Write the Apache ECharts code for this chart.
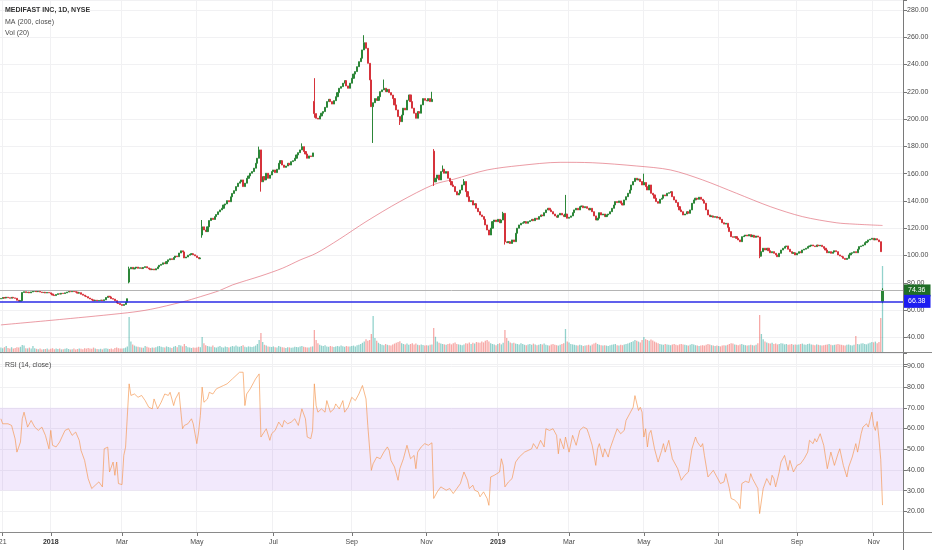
<!DOCTYPE html>
<html>
<head>
<meta charset="utf-8">
<title>MEDIFAST INC, 1D, NYSE</title>
<script src="https://cdn.jsdelivr.net/npm/echarts/dist/echarts.min.js"></script>
<style>
html, body { margin: 0; padding: 0; background: #fff; }
#main { width: 932px; height: 550px; }
</style>
</head>
<body>
<div id="main"></div>
<script>
// daily closes, one line per month (Nov 20 2017 .. Nov 8 2019)
var closes = [
    68.5, 69.2, 68.8, 69.4, 69.0, 68.7, 69.3, 68.9,   // Nov 17
    68.6, 67.2, 66.4, 66.8, 72.9, 73.4, 72.8, 73.1, 72.6, 73.3, 73.8, 74.0, 73.5, 73.7, 73.2, 72.8, 73.0, 72.5, 72.9, 72.6,   // Dec
    71.8, 71.0, 70.6, 71.4, 72.0, 71.7, 72.3, 72.1, 72.6, 73.2, 73.6, 73.4, 73.8, 73.5, 73.1, 72.4, 72.7, 71.6, 70.9, 70.2, 69.8,   // Jan 18
    68.8, 68.1, 67.4, 66.8, 67.2, 66.7, 67.0, 67.3, 66.9, 67.5, 69.2, 70.1, 69.6, 68.4, 68.0, 66.9, 65.2, 64.8, 64.0,   // Feb
    63.4, 64.1, 65.8, 68.3, 90.2, 91.3, 90.1, 90.8, 91.5, 90.6, 91.0, 90.4, 91.2, 91.8, 90.9, 90.2, 89.6, 90.0, 89.4, 90.3, 91.6,   // Mar
    92.8, 93.5, 94.6, 94.0, 95.5, 96.8, 97.6, 97.0, 98.5, 99.6, 99.1, 101.8, 103.4, 102.6, 98.2, 98.9, 100.2, 100.8, 101.3, 100.5, 99.7,   // Apr
    98.5, 97.6, 98.2, 121.0, 118.7, 117.5, 121.0, 125.6, 127.3, 126.4, 128.5, 130.0, 132.0, 133.4, 134.6, 137.0, 137.8, 140.2, 139.4, 143.0, 145.5, 147.5,   // May
    150.5, 153.0, 154.0, 155.4, 150.5, 153.0, 156.6, 158.3, 160.3, 161.5, 164.0, 167.6, 171.3, 177.4, 154.0, 157.8, 155.4, 160.3, 156.6, 159.0, 161.5,   // Jun
    162.7, 160.8, 163.2, 167.6, 169.5, 166.3, 164.6, 165.6, 167.6, 166.3, 168.8, 169.5, 171.3, 173.7, 175.4, 177.4, 179.8, 176.2, 174.4, 171.3, 173.0,   // Jul
    172.5, 175.2, 204.0, 200.6, 200.0, 202.3, 204.3, 205.5, 208.6, 212.8, 214.5, 212.8, 211.0, 213.5, 216.4, 219.4, 222.6, 223.8, 226.3, 228.2, 224.3, 222.6, 226.3,   // Aug
    229.9, 233.0, 234.8, 238.4, 242.1, 244.6, 250.7, 256.0, 251.9, 240.9, 228.7, 209.1, 212.0, 215.0, 213.7, 216.4, 220.1, 221.4, 222.6,   // Sep
    220.1, 221.8, 219.4, 217.6, 215.0, 210.4, 206.7, 201.8, 198.1, 203.0, 208.0, 206.7, 213.8, 217.7, 212.8, 208.0, 204.3, 200.6, 205.5, 204.3, 210.4, 215.0, 213.8,   // Oct
    213.3, 215.0, 212.8, 214.5, 154.0, 156.6, 159.0, 155.4, 161.5, 163.2, 160.3, 161.5, 156.6, 154.2, 151.7, 150.5, 146.8, 144.4, 145.6, 148.0, 151.7,   // Nov
    154.2, 146.8, 143.1, 139.5, 140.2, 137.0, 138.0, 134.6, 132.1, 129.7, 128.5, 126.5, 122.4, 118.7, 115.0, 120.0, 124.8, 126.0, 124.8,   // Dec
    126.5, 124.0, 126.0, 130.9, 110.0, 109.4, 110.1, 108.8, 111.4, 110.1, 116.3, 120.0, 122.4, 123.6, 124.0, 124.8, 123.6, 124.8, 125.5, 126.5, 125.5,   // Jan 19
    127.3, 126.5, 128.5, 129.7, 129.0, 131.4, 133.4, 134.6, 133.4, 132.1, 130.4, 129.0, 128.0, 129.7, 130.9, 129.7, 128.5, 130.4, 127.3,   // Feb
    128.0, 129.0, 131.4, 133.4, 134.6, 133.4, 135.8, 136.3, 135.0, 135.8, 134.6, 133.4, 134.6, 132.1, 129.0, 126.0, 127.3, 131.4, 129.7, 130.4, 128.5,   // Mar
    129.7, 130.4, 132.1, 134.6, 137.0, 139.5, 138.8, 140.0, 138.3, 137.0, 140.7, 143.1, 145.6, 148.0, 151.7, 154.2, 156.6, 155.4, 156.0, 154.2, 151.7,   // Apr
    153.5, 150.5, 148.0, 151.7, 145.6, 144.4, 142.0, 139.5, 138.3, 141.2, 142.0, 144.4, 143.7, 145.6, 146.0, 146.8, 143.1, 140.7, 138.8, 135.8, 133.4, 132.1,   // May
    129.7, 130.4, 132.1, 130.9, 133.4, 138.3, 140.7, 142.0, 141.2, 142.7, 141.2, 140.2, 138.3, 133.4, 129.7, 128.5, 129.0, 128.0, 128.5, 127.5,   // Jun
    128.0, 126.5, 124.0, 123.0, 123.6, 120.6, 117.5, 113.8, 113.3, 113.8, 112.6, 111.4, 110.1, 113.8, 114.3, 115.0, 114.3, 115.3, 113.8, 114.8, 113.3, 114.3,   // Jul
    113.5, 99.5, 102.8, 105.3, 104.0, 105.3, 103.5, 102.0, 102.8, 101.6, 100.4, 99.1, 101.6, 104.0, 105.3, 106.5, 107.0, 104.6, 102.8, 101.6, 102.0, 100.4,   // Aug
    101.6, 102.8, 102.0, 104.0, 104.6, 105.3, 106.5, 107.0, 107.7, 107.0, 106.5, 107.7, 107.0, 107.5, 106.5, 105.3, 104.0, 102.0, 102.8, 101.6,   // Sep
    102.5, 103.5, 102.8, 100.4, 99.6, 99.1, 97.9, 97.1, 97.9, 100.4, 101.6, 102.0, 102.8, 102.0, 104.6, 106.5, 107.0, 107.7, 109.4, 110.1, 111.4, 111.9, 112.6,   // Oct
    111.4, 112.3, 111.4, 110.1, 102.8, 74.36   // Nov
];

// opens that did not start at the previous close (gaps)
var gapOpens = [[0, 68.2], [72, 80.5], [113, 115.0], [176, 213.0], [243, 176.5], [495, 66.38]];
// visible wick extremes
var wickHighs = [[72, 91.8], [113, 126.0], [145, 179.8], [169, 182.2], [176, 230.0], [204, 261.5], [215, 229.0],
    [242, 220.0], [243, 178.0], [248, 166.0], [260, 156.0], [282, 132.0], [317, 144.4], [361, 160.0], [495, 76.0]];
var wickLows = [[72, 79.6], [113, 113.0], [146, 146.8], [176, 201.0], [209, 182.5], [224, 195.7], [243, 151.0],
    [283, 108.0], [426, 98.0], [495, 65.0]];

// volume, thousands of shares
var volumes = [
    110, 95, 120, 150, 100, 85, 120, 90,
    100, 120, 110, 130, 175, 160, 95, 90, 110, 85, 150, 95, 80, 70, 85, 60, 70, 75, 90, 65,
    80, 95, 70, 85, 75, 90, 65, 70, 80, 95, 75, 60, 70, 85, 65, 75, 90, 80, 70, 95, 85,
    100, 90, 80, 110, 85, 75, 70, 80, 65, 90, 95, 80, 75, 85, 70, 100, 110, 95, 90,
    85, 95, 110, 140, 875, 260, 190, 160, 140, 130, 120, 110, 105, 150, 130, 115, 100, 110, 105, 120, 140,
    150, 130, 120, 110, 140, 125, 115, 100, 130, 150, 120, 175, 160, 140, 200, 150, 120, 110, 100, 115, 105,
    110, 130, 120, 375, 220, 170, 150, 140, 130, 160, 120, 110, 130, 150, 120, 110, 140, 125, 115, 130, 150, 140,
    160, 140, 130, 150, 170, 130, 120, 140, 130, 125, 140, 160, 200, 300, 475, 250, 180, 160, 140, 130, 125,
    140, 120, 110, 150, 130, 120, 110, 100, 120, 115, 105, 110, 130, 125, 120, 140, 150, 130, 120, 110, 115,
    130, 140, 550, 300, 220, 180, 160, 150, 170, 140, 130, 150, 140, 125, 135, 150, 140, 160, 145, 130, 150, 140, 135,
    150, 160, 140, 170, 180, 200, 230, 260, 320, 280, 300, 450, 900, 350, 280, 230, 200, 180, 170,
    200, 180, 170, 160, 190, 210, 230, 250, 270, 220, 200, 190, 210, 180, 200, 220, 190, 210, 180, 170, 190, 175, 160,
    170, 160, 180, 190, 600, 380, 260, 230, 210, 200, 190, 180, 200, 210, 190, 220, 240, 200, 190, 180, 170,
    190, 220, 210, 240, 200, 230, 210, 250, 240, 230, 260, 240, 280, 300, 260, 220, 200, 190, 170,
    200, 220, 190, 230, 550, 350, 280, 240, 220, 230, 210, 200, 190, 220, 200, 180, 170, 190, 200, 180, 210,
    190, 170, 180, 200, 190, 210, 180, 170, 160, 190, 200, 180, 170, 160, 180, 200, 220, 575, 260,
    240, 200, 190, 180, 170, 160, 180, 170, 150, 160, 170, 180, 160, 190, 210, 230, 200, 180, 170, 160, 170,
    160, 150, 170, 180, 190, 200, 170, 160, 180, 170, 190, 200, 210, 230, 250, 270, 300, 280, 260, 240, 300,
    375, 320, 300, 280, 310, 290, 260, 240, 220, 200, 190, 180, 200, 190, 180, 170, 190, 200, 180, 170, 190, 200,
    190, 180, 170, 160, 180, 200, 190, 170, 160, 150, 160, 170, 160, 180, 200, 190, 170, 160, 150, 160,
    150, 140, 160, 170, 160, 180, 200, 220, 210, 190, 180, 170, 190, 200, 180, 170, 160, 170, 180, 170, 160, 180,
    220, 925, 450, 320, 260, 240, 220, 210, 230, 200, 210, 190, 200, 220, 210, 190, 200, 180, 190, 200, 180, 190,
    180, 190, 200, 210, 190, 180, 200, 210, 190, 180, 170, 190, 180, 170, 160, 170, 180, 190, 200, 180,
    170, 180, 190, 200, 190, 180, 170, 160, 180, 190, 170, 160, 180, 400, 200, 190, 210, 220, 200, 190, 210, 230, 250,
    240, 260, 220, 250, 850, 2150
];

// MA(200): [trading day, value]
var maPoints = [[0, 49.1], [35, 53.3], [71, 58.0], [84, 60.5], [102, 66.0], [112, 69.8], [123, 74.4], [130, 78.4],
    [146, 85.0], [158, 90.6], [168, 96.7], [177, 101.6], [190, 111.9], [205, 124.8], [224, 139.5], [243, 152.0],
    [254, 155.8], [273, 162.7], [291, 165.9], [314, 168.3], [332, 168.0], [357, 165.6], [376, 162.7], [394, 155.4],
    [413, 145.6], [432, 135.8], [450, 128.5], [469, 124.0], [479, 123.0], [495, 122.0]];

// RSI(14): [trading day, value]
var rsiPoints = [[0,64.7],[1,62.3],[4,62.3],[6,61.5],[8,55],[9,48.6],[10,51],[11,53.5],[12,64.7],[13,67.9],[15,60.7],[17,63.9],
    [19,60.7],[21,59.1],[23,60.7],[25,56.7],[27,50.2],[28,59.1],[29,51.9],[31,51.1],[33,53.5],[36,59.1],[38,59.9],[40,56.7],
    [42,58.3],[44,54.3],[45,49.4],[47,44.6],[49,35.8],[51,31],[53,32.6],[55,34.2],[57,31.8],[58,50.2],[60,51],[61,39],
    [63,43.8],[64,37.4],[65,43.8],[66,33.4],[68,32.9],[69,47],[70,51],[72,81.6],[73,76],[75,76.7],[77,75.1],[79,76],
    [81,73.5],[83,70.3],[85,69.5],[86,74.3],[88,69.5],[90,72.7],[92,76.7],[94,76],[95,77.5],[97,71.1],[98,74.3],[100,77.5],
    [101,77.5],[102,59.9],[103,61.5],[105,62.3],[107,64.7],[108,62.3],[110,52.7],[111,58.3],[112,66.3],[113,80],[114,72.7],
    [116,74.3],[117,77.5],[119,76.7],[121,79.2],[123,80],[125,80.8],[127,81.6],[128,80.8],[130,84],[132,85.6],[134,87.2],
    [136,87.2],[137,71.1],[138,76.7],[140,79.2],[142,82.4],[143,84],[145,86.4],[146,55.9],[147,55.1],[149,59.9],[151,54.3],
    [152,57.5],[154,59.1],[156,63.1],[158,60.7],[159,63.9],[161,62.3],[163,63.1],[165,64.7],[167,61.5],[169,69.5],[171,64.7],
    [172,55.9],[174,55.1],[175,59.1],[176,81.6],[177,71.1],[178,67.9],[180,69.5],[182,67.9],[183,73.5],[185,67.9],[187,69.5],
    [188,71.9],[190,69.5],[192,73.5],[193,67.9],[195,70.3],[197,75.1],[199,73.5],[201,76.7],[203,80.8],[204,81.6],[205,74.3],
    [206,61.5],[208,39.8],[209,43],[211,46.2],[213,45.4],[215,48.6],[217,51.1],[218,49.4],[219,44.6],[221,41.4],[223,35],
    [224,40.6],[226,45.4],[228,51.9],[230,45.4],[232,47],[233,40.6],[234,48.6],[236,51.1],[238,52.7],[240,51.9],[242,53.1],
    [243,26.2],[245,29.4],[247,31.8],[248,32.6],[250,30.2],[252,31],[254,28.6],[256,31],[258,33.4],[260,39],[262,35],[263,31],
    [265,32.6],[266,30.2],[268,29.4],[269,27],[271,29.4],[273,26.2],[274,22.9],[275,36.6],[277,37.4],[278,36.6],[280,39],
    [281,45.4],[282,42.2],[283,31.8],[285,34.2],[287,35.8],[289,43.8],[291,46.2],[292,47],[294,48.6],[296,49.4],[298,50.2],
    [299,52.7],[301,50.2],[303,54.3],[305,51.1],[306,59.9],[308,59.1],[310,59.9],[312,56.7],[313,47.8],[314,55.1],[316,50.2],
    [317,55.9],[319,48.6],[321,56.7],[323,51.9],[325,59.1],[327,60.7],[329,59.9],[330,57.5],[332,51.9],[334,42.2],[335,50.2],
    [336,52.7],[338,46.2],[339,50.2],[341,46.2],[342,50.2],[344,55.1],[346,59.9],[348,57.5],[350,59.1],[351,63.9],[353,67.1],
    [355,70.3],[356,75.9],[357,76.7],[358,68.7],[359,70.3],[360,67.9],[361,55.9],[362,59.9],[363,51.1],[364,57.5],[365,59.1],
    [367,50.2],[369,43.8],[371,49.4],[372,52.7],[373,48.6],[375,54.3],[377,45.4],[378,43.8],[380,40.6],[382,35],[384,37.4],
    [386,39],[388,50.2],[390,55.9],[391,53.5],[393,51.1],[394,52.7],[395,47],[397,36.6],[398,37.4],[400,39.8],[401,40.6],
    [402,36.6],[404,33.4],[406,34.2],[407,38.2],[409,31],[410,26.2],[412,25.4],[414,23.7],[415,21.3],[416,33.4],[418,34.5],
    [420,33.9],[421,38.2],[422,35.8],[424,32.6],[425,31],[426,18.9],[428,31],[430,35.8],[431,36.6],[432,32.6],[433,37.4],
    [434,35.8],[435,31.8],[437,39],[438,43.8],[440,47],[442,39.8],[443,44.6],[444,43.8],[445,39],[447,42.2],[449,43],
    [451,45.4],[453,48.6],[454,54.3],[456,52.7],[457,55.1],[458,53.5],[460,57.5],[462,51.9],[463,51.1],[464,40.6],[466,48.6],
    [468,42.2],[470,47.8],[471,50.2],[473,42.2],[475,36.6],[476,41.4],[478,46.2],[480,52.7],[481,48.6],[483,57.5],[484,60.7],
    [486,62.3],[487,60.7],[489,67.9],[490,61.5],[491,59.1],[492,63.4],[493,55],[494,45],[495,23]];

// horizontal price lines: last price, drawn level
var priceLines = [74.36, 66.38];
var priceTicks = [40, 280];     // labelled price range
var rsiTicks = [20, 90];        // labelled rsi range
var rsiBand = [30, 70];
var monthNames = ['Jan','Feb','Mar','Apr','May','Jun','Jul','Aug','Sep','Oct','Nov','Dec'];

// trading calendar (weekdays minus NYSE holidays), plus some empty days on the right
var holidays = ['2017-11-23','2017-12-25','2018-01-01','2018-01-15','2018-02-19','2018-03-30','2018-05-28',
    '2018-07-04','2018-09-03','2018-11-22','2018-12-05','2018-12-25','2019-01-01','2019-01-21','2019-02-18',
    '2019-04-19','2019-05-27','2019-07-04','2019-09-02','2019-11-28'];
var days = [];
var d = new Date(Date.UTC(2017, 10, 20));
while (days.length < closes.length + 11) {
    var s = d.toISOString().slice(0, 10);
    var wd = d.getUTCDay();
    if (wd !== 0 && wd !== 6 && holidays.indexOf(s) < 0) days.push(s);
    d.setUTCDate(d.getUTCDate() + 1);
}

var FONT = '"Liberation Sans", Arial, sans-serif';
var UP = '#2c8638', DOWN = '#d6333b';
var VOL_UP = 'rgba(38,166,154,0.5)', VOL_DOWN = 'rgba(239,83,80,0.5)';
var TXT = '#4a4a4a';

var openAt = {}, hiAt = {}, loAt = {};
gapOpens.forEach(function (p) { openAt[p[0]] = p[1]; });
wickHighs.forEach(function (p) { hiAt[p[0]] = p[1]; });
wickLows.forEach(function (p) { loAt[p[0]] = p[1]; });

var candleData = [], volData = [];
for (var i = 0; i < closes.length; i++) {
    var c = closes[i];
    var o = openAt[i] !== undefined ? openAt[i] : closes[i - 1];
    var hi = Math.max(o, c, hiAt[i] !== undefined ? hiAt[i] : -Infinity);
    var lo = Math.min(o, c, loAt[i] !== undefined ? loAt[i] : Infinity);
    candleData.push([o, c, lo, hi]);
    volData.push({ value: volumes[i], itemStyle: { color: c >= o ? VOL_UP : VOL_DOWN } });
}

// label every other month start, plus the partial first day
function isTick(idx) {
    if (idx === 1) return true;
    if (idx < 1 || idx >= closes.length) return false;
    var m = days[idx].slice(5, 7);
    return m !== days[idx - 1].slice(5, 7) && (+m) % 2 === 1;
}
function tickLabel(v, idx) {
    if (idx === 1) return v.slice(8, 10);
    var m = +v.slice(5, 7);
    if (m === 1) return '{yr|' + v.slice(0, 4) + '}';
    return monthNames[m - 1];
}

var myChart = echarts.init(document.getElementById('main'));

var option = {
    animation: false,
    backgroundColor: '#fff',
    textStyle: { fontFamily: FONT },
    grid: [
        { left: 0, right: 29, top: 0, height: 364.6, outerBoundsMode: 'none' },   // price
        { left: 0, right: 29, top: 252, height: 100, outerBoundsMode: 'none' },   // volume
        { left: 0, right: 29, top: 353, height: 179, outerBoundsMode: 'none' }    // rsi
    ],
    xAxis: [
        {
            type: 'category', gridIndex: 0, data: days, boundaryGap: true,
            axisLine: { show: false }, axisTick: { show: false }, axisLabel: { show: false },
            splitLine: { show: true, interval: isTick, lineStyle: { color: '#f1f1f3' } }
        },
        { type: 'category', gridIndex: 1, data: days, show: false },
        {
            type: 'category', gridIndex: 2, data: days, boundaryGap: true,
            axisLine: { show: false },
            axisTick: { show: true, interval: isTick, alignWithLabel: true, length: 4, lineStyle: { color: '#777' } },
            axisLabel: {
                interval: isTick, formatter: tickLabel, margin: 7,
                color: TXT, fontSize: 7, fontFamily: FONT,
                rich: { yr: { fontWeight: 'bold', color: '#333', fontSize: 7, fontFamily: FONT } }
            },
            splitLine: { show: true, interval: isTick, lineStyle: { color: '#f1f1f3' } }
        }
    ],
    yAxis: [
        {
            type: 'value', gridIndex: 0, position: 'right', min: 20, max: 287.3, interval: 20,
            axisLine: { show: false },
            axisTick: { show: true, length: 4, lineStyle: { color: '#777' } },
            axisLabel: {
                margin: 4, color: TXT, fontSize: 7, fontFamily: FONT,
                formatter: function (v) { return (v >= priceTicks[0] && v <= priceTicks[1]) ? v.toFixed(2) : ''; }
            },
            splitLine: { lineStyle: { color: '#f1f1f3' } }
        },
        { type: 'value', gridIndex: 1, min: 0, max: 2500, show: false },
        {
            type: 'value', gridIndex: 2, position: 'right', min: 10, max: 96.5, interval: 10,
            axisLine: { show: false },
            axisTick: { show: true, length: 4, lineStyle: { color: '#777' } },
            axisLabel: {
                margin: 4, color: TXT, fontSize: 7, fontFamily: FONT,
                formatter: function (v) { return (v >= rsiTicks[0] && v <= rsiTicks[1]) ? v.toFixed(2) : ''; }
            },
            splitLine: { lineStyle: { color: '#f1f1f3' } }
        }
    ],
    series: [
        {
            name: 'Vol', type: 'bar', xAxisIndex: 1, yAxisIndex: 1, data: volData,
            barWidth: '72%', z: 1, silent: true
        },
        {
            name: 'MEDIFAST', type: 'candlestick', xAxisIndex: 0, yAxisIndex: 0, data: candleData,
            barWidth: 1.6, z: 3, silent: true,
            itemStyle: { color: UP, color0: DOWN, borderColor: UP, borderColor0: DOWN, borderWidth: 1 },
            markLine: {
                silent: true, symbol: ['none', 'none'], animation: false,
                data: [
                    {
                        yAxis: priceLines[0],
                        lineStyle: { color: '#b4b4b4', width: 1, type: 'solid' },
                        label: {
                            position: 'end', distance: 0, formatter: priceLines[0].toFixed(2),
                            color: '#fff', fontSize: 7, fontFamily: FONT, backgroundColor: '#1f6e27',
                            padding: [3, 5, 2, 5]
                        }
                    },
                    {
                        yAxis: priceLines[1],
                        lineStyle: { color: '#2b2be6', width: 1.5, type: 'solid' },
                        label: {
                            position: 'end', distance: 0, formatter: priceLines[1].toFixed(2),
                            color: '#fff', fontSize: 7, fontFamily: FONT, backgroundColor: '#1d1df0',
                            padding: [3, 5, 3, 5]
                        }
                    }
                ]
            }
        },
        {
            name: 'MA (200, close)', type: 'line', xAxisIndex: 0, yAxisIndex: 0, data: maPoints,
            smooth: 0.3, symbol: 'none', z: 2, silent: true,
            lineStyle: { color: 'rgba(222,90,105,0.6)', width: 1 }
        },
        {
            name: 'RSI', type: 'line', xAxisIndex: 2, yAxisIndex: 2, data: rsiPoints,
            symbol: 'none', z: 3, silent: true,
            lineStyle: { color: 'rgba(245,150,80,0.75)', width: 0.9 },
            markArea: {
                silent: true,
                itemStyle: { color: 'rgba(149,76,233,0.12)' },
                data: [[{ yAxis: rsiBand[0] }, { yAxis: rsiBand[1] }]]
            }
        }
    ],
    graphic: [
        { type: 'line', z: 10, shape: { x1: 903.5, y1: 0, x2: 903.5, y2: 550 }, style: { stroke: '#7a7a7a', lineWidth: 1 } },
        { type: 'line', z: 10, shape: { x1: 0, y1: 352.5, x2: 932, y2: 352.5 }, style: { stroke: '#8a8a8a', lineWidth: 1 } },
        { type: 'line', z: 10, shape: { x1: 0, y1: 532.5, x2: 932, y2: 532.5 }, style: { stroke: '#8a8a8a', lineWidth: 1 } },
        { type: 'text', left: 5, top: 7, z: 10, style: { text: 'MEDIFAST INC, 1D, NYSE', fill: '#333', font: 'bold 7px ' + FONT } },
        { type: 'text', left: 5, top: 19, z: 10, style: { text: 'MA (200, close)', fill: TXT, font: '7px ' + FONT } },
        { type: 'text', left: 5, top: 30, z: 10, style: { text: 'Vol (20)', fill: TXT, font: '7px ' + FONT } },
        { type: 'text', left: 5, top: 362, z: 10, style: { text: 'RSI (14, close)', fill: TXT, font: '7px ' + FONT } }
    ]
};

myChart.setOption(option);
</script>
</body>
</html>
